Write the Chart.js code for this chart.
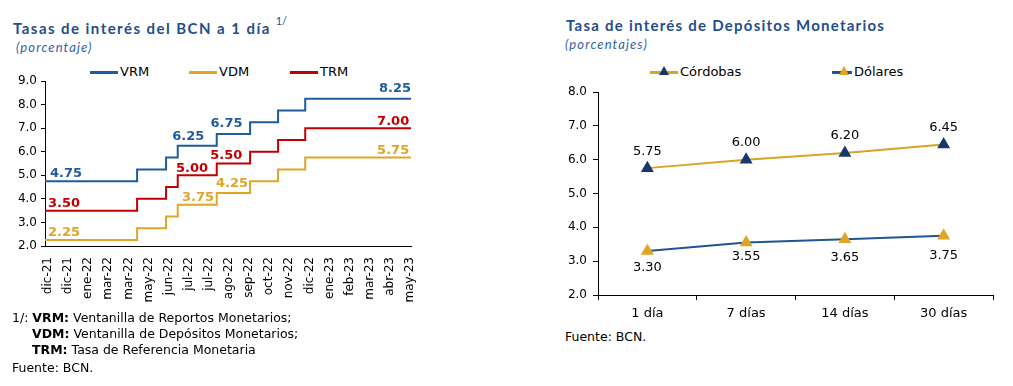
<!DOCTYPE html>
<html>
<head>
<meta charset="utf-8">
<script src="https://cdn.jsdelivr.net/npm/chart.js@4.4.1/dist/chart.umd.min.js"></script>
<style>
body { margin: 0; background: #fff; width: 1013px; height: 386px; position: relative; overflow: hidden; font-family: "DejaVu Sans", Verdana, sans-serif; }
.abs { position: absolute; white-space: nowrap; }
.title { font-family: Lato, sans-serif; font-weight: 700; font-size: 15px; color: #1f4e8c; letter-spacing: 1.45px; }
.title sup { font-size: 11px; font-weight: 400; position: relative; top: -3px; margin-left: 5px; letter-spacing: 0; }
.sub { font-family: Lato, sans-serif; font-style: italic; font-size: 13px; color: #2f64a8; letter-spacing: 1.1px; }
.leg { font-size: 13px; color: #000; line-height: 14px; }
.ln { display: inline-block; width: 28px; height: 2.5px; vertical-align: middle; margin-right: 2px; position: relative; }
.tri { position: absolute; left: 9px; top: -5px; width: 0; height: 0; border-left: 5px solid transparent; border-right: 5px solid transparent; border-bottom: 9px solid; }
.note { font-size: 12.5px; color: #000; line-height: 16px; }
canvas { position: absolute; }
</style>
</head>
<body>

<div class="abs title" style="left:13px;top:17px">Tasas de interés del BCN a 1 día<sup>1/</sup></div>
<div class="abs sub" style="left:16px;top:39px">(porcentaje)</div>

<div class="abs leg" style="left:90px;top:65px"><span class="ln" style="background:#1f5c99"></span>VRM</div>
<div class="abs leg" style="left:189px;top:65px"><span class="ln" style="background:#e0a526"></span>VDM</div>
<div class="abs leg" style="left:290px;top:65px"><span class="ln" style="background:#c00000"></span>TRM</div>

<canvas id="tasasChart" width="420" height="250" style="left:0;top:66px"></canvas>

<div class="abs note" style="left:12px;top:310px">1/: <b>VRM:</b> Ventanilla de Reportos Monetarios;</div>
<div class="abs note" style="left:32px;top:326px"><b>VDM:</b> Ventanilla de Depósitos Monetarios;</div>
<div class="abs note" style="left:32px;top:342px"><b>TRM:</b> Tasa de Referencia Monetaria</div>
<div class="abs note" style="left:12px;top:360px">Fuente: BCN.</div>

<div class="abs title" style="left:566px;top:16px;letter-spacing:1.25px">Tasa de interés de Depósitos Monetarios</div>
<div class="abs sub" style="left:565px;top:36px">(porcentajes)</div>

<div class="abs leg" style="left:650px;top:65px"><span class="ln" style="background:#d8a520"><span class="tri" style="border-bottom-color:#17386e"></span></span>Córdobas</div>
<div class="abs leg" style="left:832px;top:65px"><span class="ln" style="background:#1f5590;width:20px"><span class="tri" style="left:7px;border-bottom-color:#e0a526"></span></span>Dólares</div>

<canvas id="depositosChart" width="463" height="260" style="left:550px;top:66px"></canvas>

<div class="abs note" style="left:565px;top:329px">Fuente: BCN.</div>

<script>
// Tasas del BCN a 1 dia: fechas de cambio (en unidades de etiqueta del eje) y niveles
var fechaLabels = ['dic-21', 'dic-21', 'ene-22', 'mar-22', 'mar-22', 'may-22', 'jun-22', 'jul-22', 'jul-22',
    'ago-22', 'sep-22', 'oct-22', 'nov-22', 'dic-22', 'ene-23', 'feb-23', 'mar-23', 'abr-23', 'may-23'];
var fechaCambio = [-0.15, 4.43, 5.87, 6.45, 8.39, 10.05, 11.44, 12.79, 18.05];
var vrm = [4.75, 5.25, 5.75, 6.25, 6.75, 7.25, 7.75, 8.25, 8.25];
var vdm = [2.25, 2.75, 3.25, 3.75, 4.25, 4.75, 5.25, 5.75, 5.75];
var trm = [3.50, 4.00, 4.50, 5.00, 5.50, 6.00, 6.50, 7.00, 7.00];

// Depositos monetarios por plazo
var plazos = ['1 día', '7 días', '14 días', '30 días'];
var cordobas = [5.75, 6.00, 6.20, 6.45];
var dolares = [3.30, 3.55, 3.65, 3.75];

function toPoints(values) {
    return values.map(function(v, i) { return { x: fechaCambio[i], y: v }; });
}

// draws value labels next to chosen points
var pointLabels = {
    id: 'pointLabels',
    afterDatasetsDraw: function(chart, args, opts) {
        var ctx = chart.ctx;
        ctx.save();
        ctx.font = opts.font;
        ctx.textBaseline = 'middle';
        opts.items.forEach(function(it) {
            var ds = chart.data.datasets[it.ds];
            var raw = ds.data[it.i];
            var val = typeof raw === 'object' ? raw.y : raw;
            var x = it.x !== undefined ? chart.scales.x.getPixelForValue(it.x) : chart.getDatasetMeta(it.ds).data[it.i].x;
            var y = chart.scales.y.getPixelForValue(val);
            ctx.fillStyle = opts.color || ds.borderColor;
            ctx.textAlign = it.align || 'center';
            ctx.fillText(val.toFixed(2), x + (it.dx || 0), y + it.dy);
        });
        ctx.restore();
    }
};

var tickFont = { family: 'DejaVu Sans', size: 12 };

var tasasChart = new Chart(document.getElementById('tasasChart'), {
    type: 'line',
    data: {
        datasets: [
            { label: 'VRM', data: toPoints(vrm), borderColor: '#1f5c99', borderWidth: 2, stepped: true, pointRadius: 0 },
            { label: 'VDM', data: toPoints(vdm), borderColor: '#e0a526', borderWidth: 2, stepped: true, pointRadius: 0 },
            { label: 'TRM', data: toPoints(trm), borderColor: '#c00000', borderWidth: 2, stepped: true, pointRadius: 0 }
        ]
    },
    plugins: [pointLabels],
    options: {
        responsive: false,
        animation: false,
        devicePixelRatio: 1,
        layout: { padding: { top: 15, right: 9, left: 0, bottom: 0 } },
        plugins: {
            legend: { display: false },
            tooltip: { enabled: false },
            pointLabels: {
                font: 'bold 13px "DejaVu Sans"',
                items: [
                    { ds: 0, i: 0, x: 0.1, dy: -8, align: 'left' },
                    { ds: 0, i: 3, x: 6.97, dy: -9 },
                    { ds: 0, i: 4, x: 8.88, dy: -10 },
                    { ds: 0, i: 8, x: 18.05, dy: -10, align: 'right' },
                    { ds: 2, i: 0, x: 0, dy: -7, align: 'left' },
                    { ds: 2, i: 3, x: 7.16, dy: -7 },
                    { ds: 2, i: 4, x: 8.86, dy: -8 },
                    { ds: 2, i: 8, x: 17.96, dy: -7, align: 'right' },
                    { ds: 1, i: 0, x: 0, dy: -7, align: 'left' },
                    { ds: 1, i: 3, x: 7.46, dy: -7 },
                    { ds: 1, i: 4, x: 9.15, dy: -9 },
                    { ds: 1, i: 8, x: 17.96, dy: -7, align: 'right' }
                ]
            }
        },
        scales: {
            x: {
                type: 'linear',
                min: -0.15,
                max: 18.05,
                afterBuildTicks: function(scale) {
                    scale.ticks = fechaLabels.map(function(l, i) { return { value: i }; });
                },
                afterFit: function(scale) {
                    scale.height = 70;
                    scale.paddingLeft = 0;
                    scale.paddingRight = 0;
                },
                ticks: {
                    autoSkip: false, maxRotation: 90, minRotation: 90, padding: 11, color: '#000',
                    font: { family: 'DejaVu Sans', size: 12 },
                    callback: function(v) { return fechaLabels[v]; }
                },
                grid: { display: false, drawTicks: false },
                border: { color: '#000', width: 1 }
            },
            y: {
                min: 2,
                max: 9,
                afterFit: function(scale) { scale.width = 45; },
                ticks: { stepSize: 1, padding: 4, color: '#000', font: tickFont, callback: function(v) { return v.toFixed(1); } },
                grid: { drawOnChartArea: false, drawTicks: true, tickLength: 4, color: '#000' },
                border: { color: '#000', width: 1 }
            }
        }
    }
});

var depositosChart = new Chart(document.getElementById('depositosChart'), {
    type: 'line',
    data: {
        labels: plazos,
        datasets: [
            { label: 'Córdobas', data: cordobas, borderColor: '#d8a520', borderWidth: 2,
              pointStyle: 'triangle', pointRadius: 5.5, pointBackgroundColor: '#17386e', pointBorderColor: '#17386e' },
            { label: 'Dólares', data: dolares, borderColor: '#1f5590', borderWidth: 2,
              pointStyle: 'triangle', pointRadius: 5.5, pointBackgroundColor: '#e0a526', pointBorderColor: '#e0a526' }
        ]
    },
    plugins: [pointLabels],
    options: {
        responsive: false,
        animation: false,
        devicePixelRatio: 1,
        layout: { padding: { top: 26, right: 20, left: 0, bottom: 0 } },
        plugins: {
            legend: { display: false },
            tooltip: { enabled: false },
            pointLabels: {
                font: '13px "DejaVu Sans"',
                color: '#000',
                items: [
                    { ds: 0, i: 0, dy: -17 }, { ds: 0, i: 1, dy: -17 }, { ds: 0, i: 2, dy: -17 }, { ds: 0, i: 3, dy: -17 },
                    { ds: 1, i: 0, dy: 17 }, { ds: 1, i: 1, dy: 14 }, { ds: 1, i: 2, dy: 18 }, { ds: 1, i: 3, dy: 20 }
                ]
            }
        },
        scales: {
            x: {
                offset: true,
                afterFit: function(scale) { scale.height = 31; },
                ticks: { padding: 6, color: '#000', font: { family: 'DejaVu Sans', size: 13 } },
                grid: { offset: true, drawOnChartArea: false, drawTicks: true, tickLength: 5, color: '#000' },
                border: { color: '#000', width: 1 }
            },
            y: {
                min: 2,
                max: 8,
                afterFit: function(scale) { scale.width = 48; },
                ticks: { stepSize: 1, padding: 6, color: '#000', font: tickFont, callback: function(v) { return v.toFixed(1); } },
                grid: { drawOnChartArea: false, drawTicks: true, tickLength: 5, color: '#000' },
                border: { color: '#000', width: 1 }
            }
        }
    }
});
</script>
</body>
</html>
